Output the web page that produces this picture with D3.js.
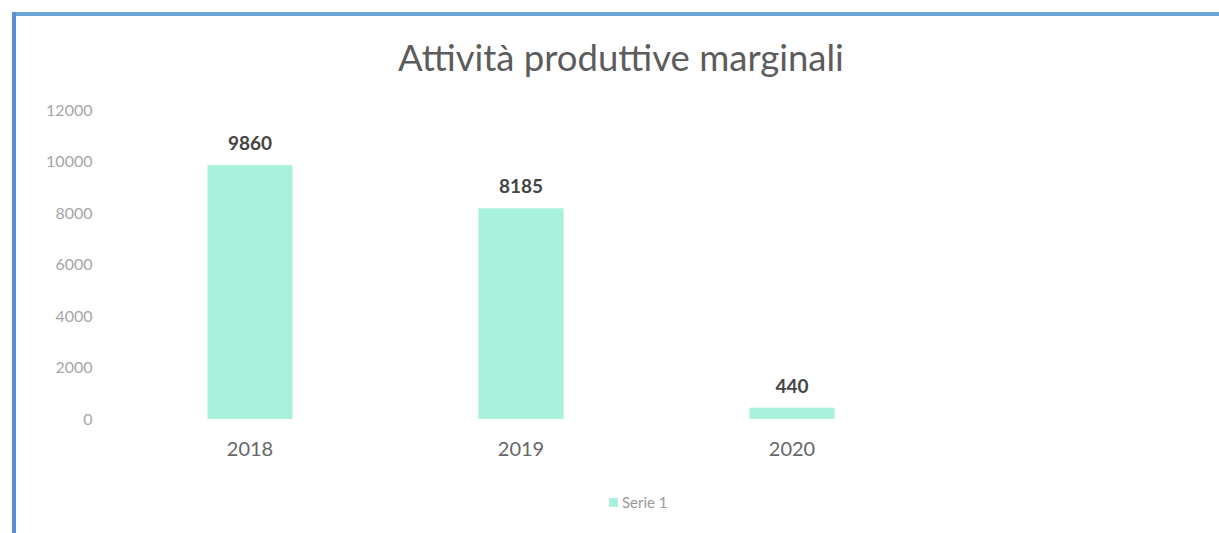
<!DOCTYPE html>
<html>
<head>
<meta charset="utf-8">
<script src="https://cdn.jsdelivr.net/npm/d3@7"></script>
<style>
  html, body { margin: 0; padding: 0; background: #fff; }
  svg { display: block; }
  text { font-family: Lato, "Open Sans", "Liberation Sans", sans-serif; }
</style>
</head>
<body>
<svg id="chart" width="1219" height="533"></svg>
<script>
const title = "Attività produttive marginali";
const categories = ["2018", "2019", "2020", ""];
const values = [9860, 8185, 440, null];
const yTicks = [0, 2000, 4000, 6000, 8000, 10000, 12000];
const seriesName = "Serie 1";

const W = 1219, H = 533;
const svg = d3.select("#chart");

// frame
svg.append("rect").attr("x", 0).attr("y", 0).attr("width", W).attr("height", H).attr("fill", "#fff");
svg.append("line").attr("x1", 12).attr("x2", W).attr("y1", 14).attr("y2", 14)
  .attr("stroke", "#6fa8d8").attr("stroke-width", 4);
svg.append("line").attr("x1", 14).attr("x2", 14).attr("y1", 12).attr("y2", H)
  .attr("stroke", "#5a8fd6").attr("stroke-width", 4);

const m = { left: 114.5, right: 1198.5, top: 110, bottom: 419 };

const x = d3.scaleBand().domain(categories).range([m.left, m.right]).paddingInner(0.686).paddingOuter(0.343);
const y = d3.scaleLinear().domain([0, 12000]).range([m.bottom, m.top]);

// title
svg.append("text").attr("x", 621).attr("y", 71).attr("text-anchor", "middle")
  .attr("font-size", 36.5).attr("fill", "#5c5c5c").text(title);

// y axis
const yAxis = svg.append("g").attr("transform", `translate(${m.left - 22},0)`)
  .call(d3.axisLeft(y).tickValues(yTicks).tickSize(0).tickPadding(0).tickFormat(d3.format("d")));
yAxis.select(".domain").remove();
yAxis.selectAll("text").attr("font-size", 16).attr("fill", "#a6a6a6")
  .attr("font-family", "Lato, 'Open Sans', sans-serif");

// x axis
const xAxis = svg.append("g").attr("transform", `translate(0,${m.bottom})`)
  .call(d3.axisBottom(x).tickSize(0).tickPadding(23));
xAxis.select(".domain").remove();
xAxis.selectAll("text").attr("font-size", 20).attr("fill", "#666")
  .attr("font-family", "Lato, 'Open Sans', sans-serif");

// bars
const data = categories.map((c, i) => ({ c, v: values[i] })).filter(d => d.v != null);
svg.selectAll("rect.bar").data(data).enter().append("rect").attr("class", "bar")
  .attr("x", d => x(d.c)).attr("width", x.bandwidth())
  .attr("y", d => y(d.v)).attr("height", d => y(0) - y(d.v))
  .attr("fill", "#a9f1dc");

// value labels
svg.selectAll("text.val").data(data).enter().append("text").attr("class", "val")
  .attr("x", d => x(d.c) + x.bandwidth() / 2).attr("y", d => y(d.v) - 15)
  .attr("text-anchor", "middle").attr("font-size", 19).attr("font-weight", "bold")
  .attr("fill", "#444").text(d => d.v);

// legend
svg.append("rect").attr("x", 609).attr("y", 498).attr("width", 9).attr("height", 9).attr("fill", "#a9f1dc");
svg.append("text").attr("x", 622).attr("y", 508).attr("font-size", 15).attr("fill", "#999").text(seriesName);
</script>
</body>
</html>
